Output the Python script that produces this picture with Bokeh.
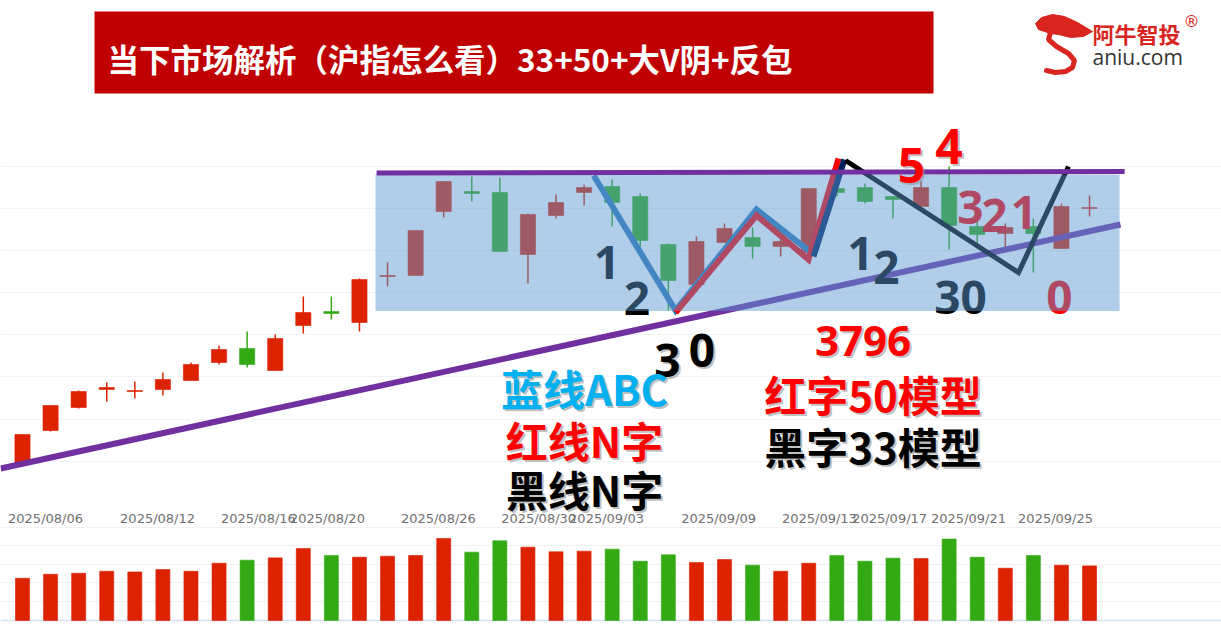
from bokeh.plotting import figure
from bokeh.models import Range1d, FixedTicker, Grid, ColumnDataSource
from bokeh.core.properties import value
from bokeh.embed import file_html
from bokeh.resources import INLINE

# ---------------- data ----------------
opens  = [3643, 3676, 3699, 3717, 3715, 3717, 3726, 3744, 3758, 3736,
          3781, 3795, 3784, 3830, 3831, 3895, 3915, 3914, 3852, 3891,
          3914, 3920, 3910, 3862, 3822, 3864, 3869, 3860, 3854, 3918,
          3919, 3910, 3900, 3919, 3880, 3873, 3880, 3858, 3898]
highs  = [3672, 3701, 3716, 3724, 3725, 3734, 3744, 3761, 3775, 3772,
          3810, 3810, 3828, 3844, 3876, 3925, 3930, 3929, 3893, 3912,
          3922, 3927, 3913, 3863, 3870, 3883, 3879, 3868, 3918, 3921,
          3923, 3910, 3925, 3940, 3891, 3883, 3888, 3903, 3911]
lows   = [3643, 3675, 3698, 3705, 3708, 3711, 3726, 3742, 3739, 3736,
          3773, 3787, 3775, 3820, 3831, 3889, 3905, 3855, 3823, 3888,
          3901, 3880, 3860, 3796, 3816, 3864, 3848, 3850, 3854, 3910,
          3903, 3888, 3900, 3857, 3858, 3859, 3834, 3858, 3890]
closes = [3672, 3701, 3715, 3719, 3716, 3727, 3742, 3757, 3742, 3768,
          3794, 3793, 3827, 3831, 3876, 3925, 3913, 3855, 3892, 3904,
          3919, 3904, 3866, 3826, 3865, 3878, 3860, 3865, 3918, 3914,
          3905, 3907, 3919, 3881, 3872, 3879, 3873, 3900, 3899]
volumes = [126, 138, 141, 147, 145, 152, 147, 171, 180, 187,
           215, 194, 189, 192, 194, 245, 204, 238, 219, 205,
           207, 213, 177, 196, 173, 182, 165, 147, 171, 194,
           177, 186, 185, 243, 189, 156, 194, 165, 163]
date_labels = ["2025/08/06", "2025/08/12", "2025/08/16", "2025/08/20", "2025/08/26", "2025/08/30",
               "2025/09/03", "2025/09/09", "2025/09/13", "2025/09/17", "2025/09/21", "2025/09/25"]
date_positions = [0.82, 4.81, 8.40, 10.86, 14.81, 18.38, 20.80, 24.79, 28.38, 30.88, 33.69, 36.79]

# drawn analysis lines (candle index, price)
abc_x = [20.34, 23.26, 26.14, 28.13]
abc_y = [3931, 3796, 3897, 3853]
c_leg_x = [28.17, 29.27]
c_leg_y = [3850, 3947]
red_n_x = [23.26, 26.14, 27.99, 29.06]
red_n_y = [3794, 3891, 3847, 3948]
black_n_x = [29.31, 35.47, 37.25]
black_n_y = [3946, 3834, 3940]
top_line_x = [12.61, 39.25]
top_line_y = [3933.5, 3935]
trend_x = [-0.78, 39.10]
trend_y = [3638, 3882]
box_x = [12.57, 39.07]
box_y = [3795.5, 3932]

RED = "#dd2200"
GREEN = "#33aa14"
idx = list(range(len(opens)))
colors = [RED if c >= o else GREEN for o, c in zip(opens, closes)]

# reference-pixel helpers for annotation placement
def xd(px):
    return (px - 22) / 28.08

def yd(py):
    return 4106 - py

VOL_PX = 0.335          # pixels per volume unit
VOL_BASE = 620          # pixel row of zero volume

def vd(py):
    return (VOL_BASE - py) / VOL_PX

W = 1221
H = 629
p = figure(width=W, height=H, x_range=Range1d(xd(0), xd(W)), y_range=Range1d(yd(H), yd(0)),
           output_backend="svg", toolbar_location=None, x_axis_location=None, y_axis_location=None,
           min_border=0, outline_line_color=None, background_fill_color="white", border_fill_color="white")
p.extra_y_ranges = {"vol": Range1d(vd(H), vd(0))}
for g in list(p.grid):
    g.visible = False
p.add_layout(Grid(dimension=1, ticker=FixedTicker(ticks=[3645, 3687, 3730, 3772, 3814, 3856, 3898, 3940]),
                  grid_line_color="#f3f3f3", grid_line_width=1))
p.add_layout(Grid(dimension=1, y_range_name="vol", ticker=FixedTicker(ticks=[56, 112, 168, 224, 278]),
                  grid_line_color="#f1f1f1", grid_line_width=1))
p.add_layout(Grid(dimension=1, y_range_name="vol", ticker=FixedTicker(ticks=[0]),
                  grid_line_color="#d5e1f0", grid_line_width=1.5))

# title bar
p.quad(left=[xd(94)], right=[xd(933)], top=[yd(11)], bottom=[yd(93)], fill_color="#c00000", line_color=None)
p.text(x=[xd(107)], y=[yd(57)], text=["当下市场解析（沪指怎么看）33+50+大V阴+反包"],
       text_font=value("Noto Sans CJK SC"), text_font_style="bold", text_font_size="31.5px",
       text_color="white", text_align="left", text_baseline="middle")

# candles
src = ColumnDataSource(dict(x=idx, o=opens, h=highs, l=lows, c=closes,
                            top=[max(o, c) for o, c in zip(opens, closes)],
                            bot=[min(o, c) for o, c in zip(opens, closes)], color=colors))
p.segment(x0="x", y0="h", x1="x", y1="l", source=src, line_color="color", line_width=1.5)
p.vbar(x="x", top="top", bottom="bot", width=0.54, source=src, fill_color="color",
       line_color="color", line_alpha=0.6, line_width=1)

# volume bars
p.vbar(x=idx, top=volumes, bottom=0, width=0.5, fill_color=colors, line_color=colors,
       line_alpha=0.6, y_range_name="vol")

# date tick labels
p.text(x=date_positions, y=[vd(518)] * len(date_positions), text=date_labels, y_range_name="vol",
       text_font=value("DejaVu Sans"), text_font_size="13px", text_color="#707070",
       text_align="center", text_baseline="middle")

# trend line & drawn lines (under box overlay)
p.line(trend_x, trend_y, line_color="#7030a0", line_width=6)
p.line(abc_x, abc_y, line_color="#2e75b6", line_width=6, line_join="miter")
p.line(red_n_x, red_n_y, line_color="#ff0000", line_width=6, line_join="miter")
p.line(c_leg_x, c_leg_y, line_color="#002060", line_width=6)
p.line(black_n_x, black_n_y, line_color="#000000", line_width=5, line_join="miter")

def txt(px, py, s, size, color, font="Open Sans", align="center", baseline="alphabetic",
        shadow=False, style="bold"):
    if shadow:
        p.text(x=[xd(px)], y=[yd(py)], text=[s], x_offset=2, y_offset=2,
               text_font=value(font), text_font_style=style, text_font_size=f"{size}px",
               text_color="#8c8c8c", text_alpha=0.55, text_align=align, text_baseline=baseline)
    p.text(x=[xd(px)], y=[yd(py)], text=[s], text_font=value(font), text_font_style=style,
           text_font_size=f"{size}px", text_color=color, text_align=align, text_baseline=baseline)

# numbers inside the box (muted by overlay)
txt(606.5, 261.7, "1", 46, "black")
txt(636.5, 298.3, "2", 46, "black")
txt(860, 253.3, "1", 46, "black")
txt(886, 266.7, "2", 46, "black")
txt(960, 296.7, "30", 46, "black")
txt(970, 207, "3", 46, "#ff0000")
txt(994, 215, "2", 46, "#ff0000")
txt(1023.5, 212, "1", 46, "#ff0000")
txt(1059, 296.7, "0", 46, "#ff0000")

# translucent blue box
p.quad(left=[box_x[0]], right=[box_x[1]], bottom=[box_y[0]], top=[box_y[1]],
       fill_color="#5a99d1", fill_alpha=0.48, line_color=None)
p.line(top_line_x, top_line_y, line_color="#7030a0", line_width=5)

# outside labels
txt(911, 165, "5", 48, "#ff0000", shadow=True)
txt(948.5, 146, "4", 48, "#ff0000", shadow=True)
txt(667, 360, "3", 46, "black", shadow=True)
txt(701.5, 350, "0", 46, "black", shadow=True)
txt(862.5, 340.5, "3796", 42, "#ff0000", shadow=True)
cjk = "Noto Sans CJK SC"
txt(584, 387, "蓝线ABC", 42, "#00b0f0", font=cjk, baseline="middle", shadow=True)
txt(584, 438.5, "红线N字", 42, "#ff0000", font=cjk, baseline="middle", shadow=True)
txt(584, 487.5, "黑线N字", 42, "black", font=cjk, baseline="middle", shadow=True)
txt(872.5, 393, "红字50模型", 42, "#ff0000", font=cjk, baseline="middle", shadow=True)
txt(872.5, 445, "黑字33模型", 42, "black", font=cjk, baseline="middle", shadow=True)

# logo
head = [(1035, 23), (1041, 17), (1052, 14), (1064, 16), (1077, 22), (1092, 31), (1083, 36),
        (1070, 37), (1058, 34), (1050, 33), (1044, 31), (1038, 29)]
p.patch([xd(a) for a, b in head], [yd(b) for a, b in head], fill_color="#d8261f", line_color="#d8261f")
tail = [(1050, 32), (1048, 39), (1056, 46), (1068, 53), (1074, 60), (1072, 67), (1065, 71), (1055, 72), (1046, 70)]
p.line([xd(a) for a, b in tail], [yd(b) for a, b in tail], line_color="#d8261f", line_width=5, line_cap="round")
txt(1092, 32, "阿牛智投", 22, "#d8261f", font=cjk, align="left", baseline="middle")
txt(1191, 21, "®", 16, "#d8261f", font="DejaVu Sans", baseline="middle", style="normal")
txt(1092, 56, "aniu.com", 21, "#333333", align="left", baseline="middle", style="normal")

open("out.html", "w").write(file_html(p, INLINE))
